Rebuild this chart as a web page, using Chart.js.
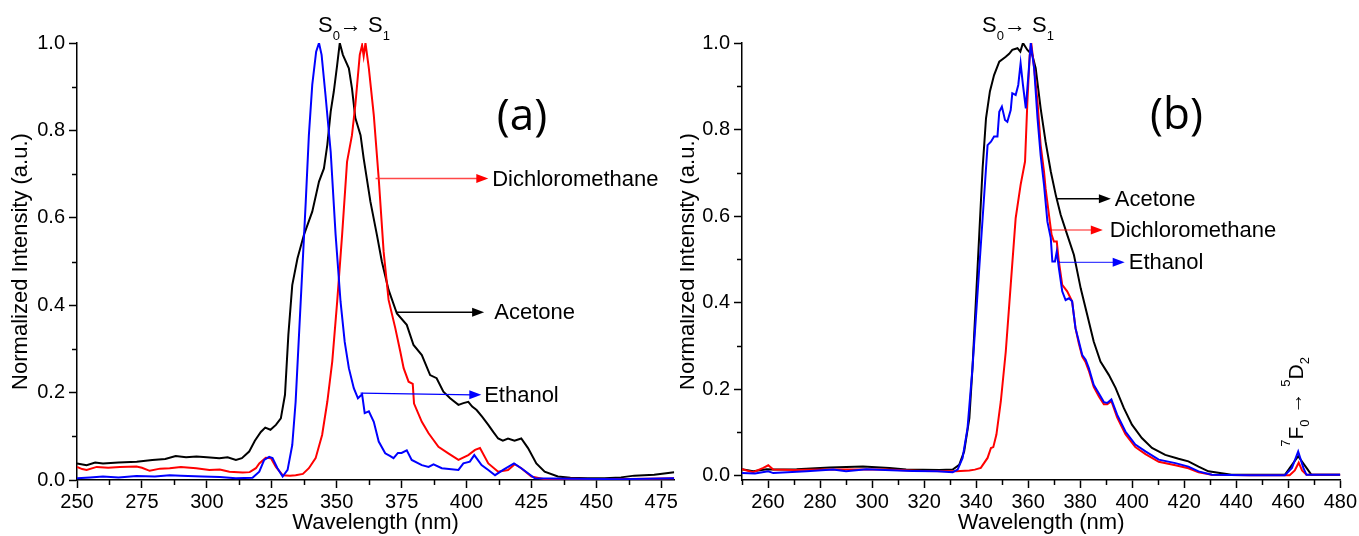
<!DOCTYPE html>
<html>
<head>
<meta charset="utf-8">
<script src="https://cdn.jsdelivr.net/npm/chart.js@4.4.1/dist/chart.umd.min.js"></script>
<style>
  html, body { margin: 0; padding: 0; background: #fff; }
  #wrap { position: relative; width: 1359px; height: 536px; overflow: hidden; }
  #chartA { position: absolute; left: 0; top: 0; }
  #chartB { position: absolute; left: 680px; top: 0; }
</style>
</head>
<body>
<div id="wrap">
  <canvas id="chartA" width="680" height="536"></canvas>
  <canvas id="chartB" width="679" height="536"></canvas>
</div>
<script>
// ---- panel (a) ----
const wlA_acetone = [250, 253.7, 257, 260, 266, 273, 279, 284, 288, 292, 296, 300, 304.8, 308, 311.2, 313.5, 316.3, 318.5, 320.8, 322.5, 324.5, 326.6, 328.5, 330.1, 331.4, 332.9, 334.9, 337.4, 340.6, 343.2, 345.1, 346.4, 347.7, 348.9, 350.2, 351.2, 352.4, 354.7, 355.9, 357.2, 359.2, 360.4, 363.0, 365.5, 367.4, 370.0, 373.2, 377.0, 379.6, 382.8, 386.0, 388.5, 391.1, 393.7, 396.9, 398.8, 400.7, 402.2, 403.9, 406, 408.4, 410.3, 412.2, 414, 416.0, 418.5, 421.1, 423.7, 426.9, 430.1, 435.2, 440, 446.7, 453.1, 459.5, 464.6, 472.3, 480];
const intA_acetone = [0.038, 0.034, 0.04, 0.038, 0.04, 0.042, 0.046, 0.048, 0.055, 0.052, 0.054, 0.052, 0.05, 0.052, 0.046, 0.05, 0.065, 0.09, 0.11, 0.12, 0.115, 0.126, 0.141, 0.195, 0.332, 0.446, 0.507, 0.561, 0.614, 0.683, 0.713, 0.767, 0.843, 0.889, 0.95, 1.0, 0.973, 0.942, 0.896, 0.828, 0.789, 0.736, 0.637, 0.561, 0.5, 0.435, 0.381, 0.355, 0.309, 0.286, 0.24, 0.233, 0.202, 0.187, 0.172, 0.176, 0.179, 0.168, 0.16, 0.145, 0.126, 0.11, 0.095, 0.09, 0.095, 0.09, 0.095, 0.073, 0.038, 0.019, 0.008, 0.005, 0.004, 0.004, 0.006, 0.01, 0.012, 0.018];

const wlA_dcm = [250, 252, 253.7, 257.6, 262, 266.5, 272.9, 275, 278, 282, 285.7, 290, 295.9, 301, 305, 308.7, 313.8, 316.5, 318.9, 320.2, 322.7, 324.7, 326.6, 329.2, 332, 334.2, 337, 339.3, 341.9, 344.4, 346.4, 348.3, 350.2, 352.1, 354.0, 355.9, 357.2, 358.9, 359.8, 360.4, 361.1, 362.4, 364.3, 366.2, 368.1, 370.0, 372.6, 374.5, 375.8, 377.7, 379.3, 379.8, 382.8, 385.4, 389.2, 393.0, 396.9, 400.7, 403.3, 405.2, 408.4, 412.2, 416.0, 418.6, 421.1, 425.0, 430.1, 440, 455, 470, 480];
const intA_dcm = [0.03, 0.025, 0.023, 0.03, 0.028, 0.03, 0.031, 0.028, 0.021, 0.026, 0.027, 0.03, 0.027, 0.023, 0.024, 0.019, 0.017, 0.018, 0.027, 0.038, 0.051, 0.05, 0.03, 0.011, 0.01, 0.011, 0.014, 0.027, 0.05, 0.103, 0.179, 0.271, 0.408, 0.561, 0.728, 0.789, 0.859, 0.973, 0.995, 0.97, 1.0, 0.942, 0.835, 0.69, 0.522, 0.412, 0.347, 0.294, 0.256, 0.225, 0.22, 0.175, 0.133, 0.107, 0.076, 0.061, 0.046, 0.057, 0.069, 0.073, 0.038, 0.019, 0.023, 0.036, 0.027, 0.008, 0.002, 0.003, 0.002, 0.003, 0.004];

const wlA_ethanol = [250, 255, 260, 266, 272.9, 280, 285.7, 290, 298.3, 305, 311.2, 317.6, 320.2, 322.1, 324.0, 325.3, 327.2, 329.2, 331.1, 332.9, 334.2, 335.5, 336.8, 338.1, 339.3, 340.6, 342.1, 343.2, 344.2, 345.7, 347.7, 349.6, 351.5, 353.1, 354.7, 356.6, 358.2, 359.8, 360.8, 362.4, 364.3, 366.2, 368.7, 370.5, 371.9, 373.6, 375, 377.0, 378.9, 382.8, 385.4, 387.3, 390.5, 396.9, 398.8, 401.3, 403.0, 405.8, 408.4, 411.0, 414.1, 418.3, 421.1, 426.3, 440, 460, 480];
const intA_ethanol = [0.004, 0.006, 0.008, 0.006, 0.009, 0.008, 0.011, 0.01, 0.008, 0.007, 0.004, 0.005, 0.019, 0.046, 0.053, 0.05, 0.027, 0.008, 0.023, 0.08, 0.179, 0.332, 0.484, 0.637, 0.789, 0.904, 0.98, 1.0, 0.973, 0.881, 0.751, 0.561, 0.408, 0.316, 0.256, 0.21, 0.187, 0.196, 0.153, 0.157, 0.133, 0.088, 0.061, 0.055, 0.05, 0.062, 0.062, 0.068, 0.046, 0.034, 0.03, 0.036, 0.027, 0.023, 0.038, 0.042, 0.057, 0.034, 0.023, 0.011, 0.023, 0.038, 0.027, 0.004, 0.003, 0.002, 0.004];

// ---- panel (b) ----
const wlB_acetone = [250, 254.3, 259.5, 262, 271, 283.7, 296.5, 306.7, 313.1, 325.9, 331, 333.5, 335.4, 337.4, 338.6, 339.9, 341.2, 342.5, 343.8, 345.3, 346.9, 348.9, 351.4, 352.7, 353.9, 355.9, 357, 358.0, 359.7, 361.6, 362.9, 364.8, 366.7, 368.7, 370.6, 372.5, 375.0, 377.6, 380.2, 382.7, 385.2, 387.8, 391.0, 393.6, 396.8, 399.9, 403.7, 407.6, 412.7, 417.8, 421.6, 425.5, 429.3, 438.2, 450, 458.7, 460.6, 463.8, 467.0, 468.9, 475, 480];
const intB_acetone = [0.015, 0.01, 0.015, 0.014, 0.015, 0.019, 0.021, 0.018, 0.014, 0.013, 0.014, 0.025, 0.056, 0.133, 0.249, 0.403, 0.557, 0.711, 0.826, 0.888, 0.926, 0.957, 0.968, 0.975, 0.984, 0.988, 0.98, 1.0, 0.984, 0.972, 0.942, 0.849, 0.772, 0.703, 0.649, 0.603, 0.557, 0.51, 0.433, 0.372, 0.31, 0.264, 0.233, 0.203, 0.156, 0.118, 0.087, 0.064, 0.048, 0.039, 0.033, 0.021, 0.01, 0.002, 0.002, 0.002, 0.018, 0.045, 0.018, 0.002, 0.002, 0.002];

const wlB_dcm = [250, 254.3, 258.2, 260.1, 262, 270, 281.1, 295, 305, 319.5, 332.3, 337.4, 339.5, 341.8, 344.4, 345.7, 346.6, 347.8, 349.5, 351.4, 353.3, 355.2, 357.1, 358.8, 359.7, 360.6, 361.2, 362.3, 363.6, 364.8, 366.1, 366.7, 368.0, 369.0, 369.9, 371.0, 371.8, 373.1, 375.0, 376.9, 378.2, 379.5, 380.8, 382.1, 383.3, 385.2, 387.2, 389.1, 390.4, 392.0, 394.2, 397.4, 401.2, 405.1, 410.2, 416.6, 421.6, 425.5, 430.6, 445, 460.5, 462.5, 464, 465.3, 467, 475, 480];
const intB_dcm = [0.015, 0.008, 0.018, 0.024, 0.014, 0.013, 0.014, 0.014, 0.014, 0.011, 0.01, 0.012, 0.014, 0.018, 0.041, 0.064, 0.066, 0.095, 0.172, 0.287, 0.441, 0.595, 0.672, 0.726, 0.864, 0.972, 1.0, 0.942, 0.864, 0.764, 0.703, 0.664, 0.603, 0.557, 0.541, 0.541, 0.495, 0.441, 0.426, 0.403, 0.341, 0.305, 0.275, 0.262, 0.243, 0.205, 0.183, 0.165, 0.165, 0.172, 0.135, 0.096, 0.066, 0.05, 0.032, 0.024, 0.017, 0.008, 0.002, 0.001, 0.001, 0.012, 0.03, 0.012, 0.002, 0.002, 0.002];

const wlB_ethanol = [250, 255, 260.1, 262, 274.8, 285, 290, 297.8, 305, 315.6, 325, 331, 332.9, 334.8, 336.7, 338.6, 340.5, 342.5, 344.4, 345.7, 346.9, 348.2, 348.9, 349.9, 351.1, 352, 353.3, 353.9, 355.2, 356.2, 357.1, 358.0, 359.1, 360.1, 361.0, 362.3, 363.6, 364.8, 366.1, 367.4, 368.7, 369.3, 370.3, 371.0, 371.8, 373.1, 374.4, 375.7, 376.9, 378.2, 379.5, 380.8, 382.1, 383.3, 385.2, 387.2, 389.1, 390.4, 392.0, 394.2, 397.4, 401.2, 405.1, 410.2, 416.6, 421.6, 425.5, 430.6, 445, 458.7, 461.4, 463.8, 465.8, 467, 475, 480];
const intB_ethanol = [0.006, 0.005, 0.01, 0.006, 0.01, 0.014, 0.01, 0.015, 0.013, 0.011, 0.01, 0.008, 0.014, 0.041, 0.11, 0.249, 0.418, 0.595, 0.764, 0.772, 0.784, 0.784, 0.841, 0.853, 0.822, 0.818, 0.845, 0.884, 0.88, 0.903, 0.953, 0.903, 0.849, 0.926, 1.0, 0.942, 0.826, 0.741, 0.672, 0.587, 0.549, 0.495, 0.495, 0.518, 0.48, 0.426, 0.406, 0.41, 0.403, 0.341, 0.31, 0.279, 0.268, 0.249, 0.21, 0.19, 0.17, 0.168, 0.176, 0.141, 0.102, 0.072, 0.056, 0.037, 0.029, 0.021, 0.01, 0.002, 0.001, 0.001, 0.018, 0.056, 0.018, 0.002, 0.002, 0.002];

// tick labels
const xTicksA = [250, 275, 300, 325, 350, 375, 400, 425, 450, 475];
const xTicksB = [260, 280, 300, 320, 340, 360, 380, 400, 420, 440, 460, 480];
const yTicks = [0, 0.2, 0.4, 0.6, 0.8, 1.0];

const SANS = "'Liberation Sans', Arial, sans-serif";
const NARROW = "'Liberation Sans Narrow', 'Arial Narrow', 'Liberation Sans', sans-serif";

function pts(xs, ys) {
  return xs.map((x, i) => ({ x: x, y: ys[i] }));
}

function series(label, xs, ys, color) {
  return {
    label: label,
    data: pts(xs, ys),
    borderColor: color,
    backgroundColor: color,
    borderWidth: 2,
    pointRadius: 0,
    showLine: true,
    tension: 0
  };
}

function minorBetween(ticks) {
  const step = ticks[1] - ticks[0];
  const out = [];
  for (let v = ticks[0] - step / 2; v <= ticks[ticks.length - 1] + step / 2 + 1e-9; v += step) out.push(v);
  return out;
}

// arrows, labels and minor ticks
const extras = {
  id: 'extras',
  afterDraw(chart, args, o) {
    const ctx = chart.ctx;
    const xs = chart.scales.x, ys = chart.scales.y;
    const area = chart.chartArea;
    ctx.save();

    // minor ticks
    ctx.strokeStyle = '#000';
    ctx.lineWidth = 1.5;
    o.xMinor.forEach(v => {
      if (v < xs.min || v > xs.max) return;
      const px = Math.round(xs.getPixelForValue(v)) + 0.5;
      ctx.beginPath(); ctx.moveTo(px, area.bottom); ctx.lineTo(px, area.bottom + 5); ctx.stroke();
    });
    o.yMinor.forEach(v => {
      if (v < ys.min || v > ys.max) return;
      const py = Math.round(ys.getPixelForValue(v)) + 0.5;
      ctx.beginPath(); ctx.moveTo(area.left, py); ctx.lineTo(area.left - 5, py); ctx.stroke();
    });

    // arrows with labels
    o.arrows.forEach(a => {
      const x1 = xs.getPixelForValue(a.x1), x2 = xs.getPixelForValue(a.x2);
      const y1 = ys.getPixelForValue(a.y1), y2 = ys.getPixelForValue(a.y2);
      ctx.strokeStyle = a.line || a.color;
      ctx.lineWidth = a.width || 1.5;
      ctx.beginPath(); ctx.moveTo(x1, y1); ctx.lineTo(x2 - 8, y2); ctx.stroke();
      ctx.fillStyle = a.color;
      ctx.beginPath();
      ctx.moveTo(x2, y2); ctx.lineTo(x2 - 12, y2 - 4.5); ctx.lineTo(x2 - 12, y2 + 4.5); ctx.closePath();
      ctx.fill();
      ctx.fillStyle = '#000';
      ctx.font = '22px ' + SANS;
      ctx.textBaseline = 'middle';
      ctx.textAlign = 'left';
      ctx.fillText(a.text, xs.getPixelForValue(a.tx), y2 + 1);
    });

    // S0 -> S1 label
    let tx = xs.getPixelForValue(o.sLabelX);
    const base = area.top - 11;
    ctx.fillStyle = '#000';
    ctx.textBaseline = 'alphabetic';
    ctx.textAlign = 'left';
    const parts = [['S', 22, 0], ['0', 13, 8], ['\u2192 ', 22, 0], ['S', 22, 0], ['1', 13, 8]];
    parts.forEach(p => {
      ctx.font = p[1] + 'px ' + SANS;
      ctx.fillText(p[0], tx, base + p[2]);
      tx += ctx.measureText(p[0]).width;
    });

    // panel letter
    ctx.font = '44px "Open Sans", sans-serif';
    ctx.textAlign = 'center';
    ctx.textBaseline = 'middle';
    ctx.fillText(o.panel, xs.getPixelForValue(o.panelX), ys.getPixelForValue(o.panelY));

    // rotated transition label
    if (o.rot) {
      ctx.save();
      ctx.translate(xs.getPixelForValue(o.rot.x), ys.getPixelForValue(o.rot.y));
      ctx.rotate(-Math.PI / 2);
      ctx.textAlign = 'left';
      ctx.textBaseline = 'alphabetic';
      let rx = 0;
      const rparts = [['7', 13, -13], ['F', 21, 0], ['0', 13, 6], [' \u2192 ', 21, -1], ['5', 13, -13], ['D', 21, 0], ['2', 13, 6]];
      rparts.forEach(p => {
        ctx.font = p[1] + 'px ' + SANS;
        ctx.fillText(p[0], rx, p[2]);
        rx += ctx.measureText(p[0]).width;
      });
      ctx.restore();
    }
    ctx.restore();
  }
};

function makeScales(xTicks, yMin, yWidth, yTitlePad) {
  return {
    x: {
      type: 'linear', min: 250, max: 480,
      afterBuildTicks: s => { s.ticks = xTicks.map(v => ({ value: v })); },
      afterFit: s => { s.height = 56; },
      grid: { drawOnChartArea: false, drawTicks: true, tickLength: 8, tickWidth: 1.5, tickColor: '#000' },
      border: { display: true, color: '#000', width: 1.5 },
      ticks: { color: '#000', font: { family: NARROW, size: 20 }, padding: 2, maxRotation: 0, autoSkip: false,
        callback: v => String(v) },
      title: { display: true, text: 'Wavelength (nm)', color: '#000', font: { family: SANS, size: 22 }, padding: { top: 0, bottom: 0 } }
    },
    y: {
      type: 'linear', min: yMin, max: 1.0,
      afterBuildTicks: s => { s.ticks = yTicks.map(v => ({ value: v })); },
      afterFit: s => { s.width = yWidth; },
      grid: { drawOnChartArea: false, drawTicks: true, tickLength: 8, tickWidth: 1.5, tickColor: '#000' },
      border: { display: true, color: '#000', width: 1.5 },
      ticks: { color: '#000', font: { family: NARROW, size: 20 }, padding: 4, autoSkip: false,
        callback: v => v.toFixed(1) },
      title: { display: true, text: 'Normalized Intensity (a.u.)', color: '#000', font: { family: SANS, size: 22 },
        padding: { top: yTitlePad, bottom: 0 } }
    }
  };
}

const common = {
  responsive: false,
  devicePixelRatio: 1,
  animation: false,
  events: [],
  plugins: { legend: { display: false }, tooltip: { enabled: false } }
};

new Chart(document.getElementById('chartA'), {
  type: 'scatter',
  data: {
    datasets: [
      series('Ethanol', wlA_ethanol, intA_ethanol, '#0000ff'),
      series('Dichloromethane', wlA_dcm, intA_dcm, '#ff0000'),
      series('Acetone', wlA_acetone, intA_acetone, '#000000')
    ]
  },
  options: Object.assign({}, common, {
    layout: { padding: { left: 0, right: 4, top: 43, bottom: 0 } },
    scales: makeScales(xTicksA, 0, 77, 8),
    plugins: Object.assign({}, common.plugins, {
      extras: {
        xMinor: minorBetween(xTicksA),
        yMinor: [0.1, 0.3, 0.5, 0.7, 0.9],
        sLabelX: 342.8,
        panel: '(a)', panelX: 421.4, panelY: 0.83,
        arrows: [
          { text: 'Dichloromethane', color: '#ff0000', line: 'rgba(255,40,40,0.85)', x1: 365.0, x2: 408.4, y1: 0.69, y2: 0.69, tx: 409.9 },
          { text: 'Acetone', color: '#000000', x1: 373.1, x2: 406.8, y1: 0.384, y2: 0.384, tx: 410.7 },
          { text: 'Ethanol', color: '#0000ff', width: 1.2, x1: 359.2, x2: 405.7, y1: 0.199, y2: 0.195, tx: 406.8 }
        ]
      }
    })
  }),
  plugins: [extras]
});

new Chart(document.getElementById('chartB'), {
  type: 'scatter',
  data: {
    datasets: [
      series('Ethanol', wlB_ethanol, intB_ethanol, '#0000ff'),
      series('Dichloromethane', wlB_dcm, intB_dcm, '#ff0000'),
      series('Acetone', wlB_acetone, intB_acetone, '#000000')
    ]
  },
  options: Object.assign({}, common, {
    layout: { padding: { left: 0, right: 16, top: 43, bottom: 0 } },
    scales: makeScales(xTicksB, -0.01, 62, -5),
    plugins: Object.assign({}, common.plugins, {
      extras: {
        xMinor: minorBetween(xTicksB),
        yMinor: [0.1, 0.3, 0.5, 0.7, 0.9],
        sLabelX: 342.3,
        panel: '(b)', panelX: 417, panelY: 0.83,
        arrows: [
          { text: 'Acetone', color: '#000000', x1: 371.1, x2: 391.8, y1: 0.64, y2: 0.64, tx: 393.3 },
          { text: 'Dichloromethane', color: '#ff0000', line: 'rgba(255,0,0,0.45)', width: 2, x1: 368.8, x2: 388.7, y1: 0.568, y2: 0.568, tx: 391.4 },
          { text: 'Ethanol', color: '#0000ff', line: 'rgba(0,0,255,0.75)', width: 1.2, x1: 371.8, x2: 397.1, y1: 0.493, y2: 0.493, tx: 398.7 }
        ],
        rot: { x: 465.7, y: 0.067 }
      }
    })
  }),
  plugins: [extras]
});
</script>
</body>
</html>
